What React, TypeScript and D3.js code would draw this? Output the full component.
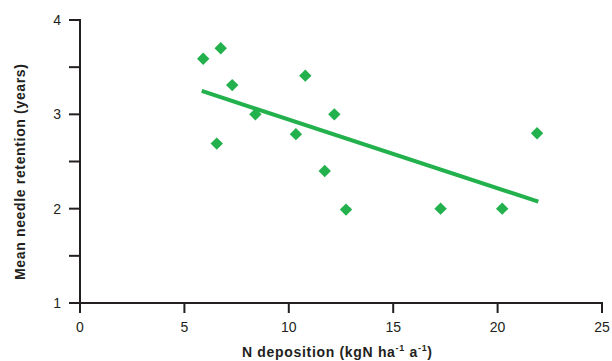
import React from "react";
import * as d3 from "d3";

const nDeposition = [5.9, 6.74, 7.29, 6.55, 8.4, 10.34, 10.79, 12.18, 11.72, 12.74, 17.27, 20.22, 21.89];
const needleRetention = [3.59, 3.7, 3.31, 2.69, 3.0, 2.79, 3.41, 3.0, 2.4, 1.99, 2.0, 2.0, 2.8];
const fitX = [5.83, 21.95];
const fitY = [3.248, 2.074];
const xTicks = [0, 5, 10, 15, 20, 25];
const yTicks = [1, 2, 3, 4];
const yMinorTicks = [1.5, 2.5, 3.5];

const W = 612;
const H = 361;
const GREEN = "#22b14c";
const AXIS = "#231f20";
const FONT = "'Liberation Sans', Arial, sans-serif";

export default function App() {
  const x = d3.scaleLinear().domain([0, 25]).range([80, 602]);
  const y = d3.scaleLinear().domain([1, 4]).range([303, 20]);
  const line = d3.line<number>().x((d) => x(d)).y((_, i) => y(fitY[i]));
  const diamond = d3.symbol().type(d3.symbolDiamond2).size(98)();

  return (
    <svg width={W} height={H} style={{ position: "absolute", left: 0, top: 0, background: "#fff" }}>
      {/* axes */}
      <line x1={x(0)} x2={x(0)} y1={y(4) - 1} y2={y(1) + 10} stroke={AXIS} strokeWidth={2} />
      <line x1={69} x2={x(25) + 1} y1={y(1)} y2={y(1)} stroke={AXIS} strokeWidth={2} />
      {yTicks.map((t) => (
        <g key={"y" + t}>
          <line x1={69} x2={x(0)} y1={y(t)} y2={y(t)} stroke={AXIS} strokeWidth={2} />
          <text x={61} y={y(t)} dy="0.36em" textAnchor="end" fontFamily={FONT} fontSize={14} fill={AXIS}>
            {t}
          </text>
        </g>
      ))}
      {yMinorTicks.map((t) => (
        <line key={"ym" + t} x1={69} x2={x(0)} y1={y(t)} y2={y(t)} stroke={AXIS} strokeWidth={2} />
      ))}
      {xTicks.map((t) => (
        <g key={"x" + t}>
          <line x1={x(t)} x2={x(t)} y1={y(1)} y2={y(1) + 10} stroke={AXIS} strokeWidth={2} />
          <text x={x(t)} y={332} textAnchor="middle" fontFamily={FONT} fontSize={14} fill={AXIS}>
            {t}
          </text>
        </g>
      ))}
      {/* titles */}
      <text
        transform={`translate(25,172) rotate(-90)`}
        textAnchor="middle"
        fontFamily={FONT}
        fontSize={14}
        fontWeight="bold"
        fill={AXIS}
        textLength={216}
        lengthAdjust="spacing"
      >
        Mean needle retention (years)
      </text>
      <text
        x={242}
        y={357}
        fontFamily={FONT}
        fontSize={14}
        fontWeight="bold"
        fill={AXIS}
        textLength={190}
        lengthAdjust="spacing"
      >
        N deposition (kgN ha
        <tspan fontSize={9} dy={-6}>-1</tspan>
        <tspan dy={6}> a</tspan>
        <tspan fontSize={9} dy={-6}>-1</tspan>
        <tspan dy={6}>)</tspan>
      </text>
      {/* fit line */}
      <path d={line(fitX) || ""} fill="none" stroke={GREEN} strokeWidth={4} />
      {/* points */}
      {nDeposition.map((d, i) => (
        <path key={i} d={diamond || ""} transform={`translate(${x(d)},${y(needleRetention[i])})`} fill={GREEN} />
      ))}
    </svg>
  );
}
